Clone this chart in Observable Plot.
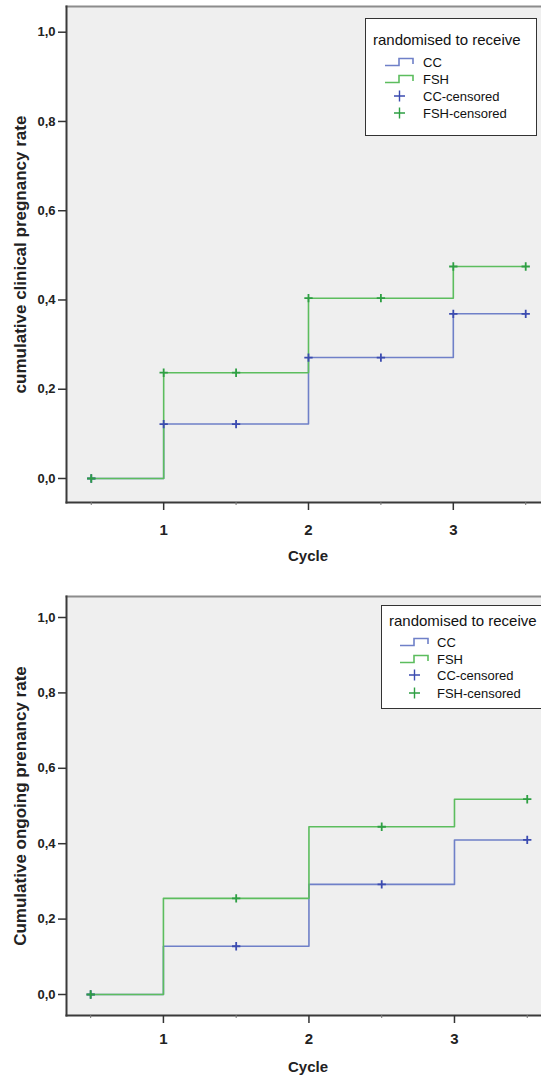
<!DOCTYPE html>
<html>
<head>
<meta charset="utf-8">
<script src="https://cdn.jsdelivr.net/npm/d3@7"></script>
<script src="https://cdn.jsdelivr.net/npm/@observablehq/plot@0.6"></script>
<style>
  body { margin: 0; background: #fff; font-family: "Liberation Sans", Arial, sans-serif; }
  #wrap { position: relative; width: 541px; height: 1075px; overflow: hidden; }
  .panel { position: absolute; left: 0; }
  .legend { position: absolute; background: #fff; border: 1.5px solid #333; box-sizing: border-box; }
  .legend .lt { position: absolute; white-space: nowrap; line-height: 1; transform: translateY(-50%); color: #111; }
  .legend svg { position: absolute; overflow: visible; }
</style>
</head>
<body>
<div id="wrap"></div>
<script>
// ---------- data ----------
const cycles = [0.5, 1, 2, 3, 3.5];
const clinicalCC  = [0, 0.122, 0.271, 0.369, 0.369];
const clinicalFSH = [0, 0.237, 0.404, 0.475, 0.475];
const ongoingCC   = [0, 0.128, 0.292, 0.410, 0.410];
const ongoingFSH  = [0, 0.255, 0.445, 0.518, 0.518];
const clinicalCCCensored  = [0.5, 1, 1.5, 2, 2.5, 3, 3.5];
const clinicalFSHCensored = [0.5, 1, 1.5, 2, 2.5, 3, 3.5];
const ongoingCCCensored   = [0.5, 1.5, 2.5, 3.5];
const ongoingFSHCensored  = [0.5, 1.5, 2.5, 3.5];
const groups = ["CC", "FSH"];
const xTicks = [1, 2, 3];
const xMinorTicks = [0.5, 1.5, 2.5, 3.5];
const yTicks = [0, 0.2, 0.4, 0.6, 0.8, 1.0];
const legendTitle = "randomised to receive";
const legendLabels = ["CC", "FSH", "CC-censored", "FSH-censored"];
const yLabels = ["cumulative clinical pregnancy rate", "Cumulative ongoing prenancy rate"];
const xLabel = "Cycle";

// ---------- styles ----------
const lineColor = {CC: "#6f80c8", FSH: "#5cbd5e"};
const censColor = {CC: "#3b4bb0", FSH: "#2e9f43"};
const FONT = "'Liberation Sans', Arial, sans-serif";

function stepAt(times, values, t) {
  let v = values[0];
  for (let i = 0; i < times.length; i++) if (times[i] <= t) v = values[i];
  return v;
}

function panel(cfg) {
  const series = {CC: cfg.cc, FSH: cfg.fsh};
  const lines = groups.flatMap(g => cycles.map((c, i) => ({x: c, y: series[g][i], g})));
  const cens = {
    CC: cfg.ccCens.map(t => ({x: t, y: stepAt(cycles, cfg.cc, t)})),
    FSH: cfg.fshCens.map(t => ({x: t, y: stepAt(cycles, cfg.fsh, t)}))
  };
  return Plot.plot({
    width: 541,
    height: cfg.height,
    marginTop: cfg.marginTop,
    marginBottom: cfg.marginBottom,
    marginLeft: cfg.marginLeft,
    marginRight: 0,
    style: {fontFamily: FONT, background: "transparent", overflow: "visible"},
    x: {domain: cfg.xDomain},
    y: {domain: cfg.yDomain},
    color: {domain: groups, range: groups.map(g => lineColor[g])},
    marks: [
      Plot.frame({fill: "#efefef", stroke: null}),
      Plot.frame({anchor: "top", stroke: "#8c8c8c", strokeWidth: 2}),
      Plot.frame({anchor: "left", stroke: "#3a3a3a", strokeWidth: 2}),
      Plot.frame({anchor: "bottom", stroke: "#3a3a3a", strokeWidth: 2}),
      Plot.axisY({ticks: yTicks, tickSize: 8, tickPadding: 3, label: null,
        tickFormat: d => d.toFixed(1).replace(".", ","),
        fontSize: 13, fontWeight: "bold", fill: "#222", stroke: "#333", strokeWidth: 1.5}),
      Plot.axisX({ticks: xTicks, tickSize: 8, tickPadding: cfg.xTickPad, label: null,
        tickFormat: d => String(d),
        fontSize: 15, fontWeight: "bold", fill: "#222", stroke: "#333", strokeWidth: 1.5}),
      Plot.axisX({ticks: xMinorTicks, tickSize: 3, label: null, tickFormat: () => "", stroke: "#777"}),
      Plot.line(lines, {x: "x", y: "y", z: "g", stroke: "g", curve: "step-after", strokeWidth: 1.6}),
      ...groups.map(g => Plot.dot(cens[g], {x: "x", y: "y", symbol: "plus", r: 2.8, stroke: censColor[g], strokeWidth: 1.8})),
      Plot.text([cfg.yLabel], {text: d => d, frameAnchor: "left", textAnchor: "middle", lineAnchor: "middle",
        rotate: -90, dx: -46, fontSize: 17, fontWeight: "bold", fill: "#222"}),
      Plot.text([xLabel], {text: d => d, frameAnchor: "bottom", textAnchor: "middle", lineAnchor: "middle",
        dy: cfg.labelDy, dx: 4, fontSize: 15, fontWeight: "bold", fill: "#222"})
    ]
  });
}

function legend(cfg) {
  const box = document.createElement("div");
  box.className = "legend";
  Object.assign(box.style, {left: cfg.left + "px", top: cfg.top + "px", width: cfg.width + "px", height: cfg.height + "px"});
  const title = document.createElement("div");
  title.className = "lt";
  title.textContent = legendTitle;
  Object.assign(title.style, {left: cfg.titleX + "px", top: cfg.titleY + "px", fontSize: "15px"});
  box.appendChild(title);
  legendLabels.forEach((lab, i) => {
    const g = groups[i % 2];
    const y = cfg.itemY[i];
    const ns = "http://www.w3.org/2000/svg";
    const svg = document.createElementNS(ns, "svg");
    svg.setAttribute("width", 30); svg.setAttribute("height", 12);
    svg.style.left = cfg.iconX + "px"; svg.style.top = (y - 6) + "px";
    const p = document.createElementNS(ns, "path");
    if (i < 2) {
      p.setAttribute("d", "M0,9.5H14V2.5H28V8");
      p.setAttribute("stroke", lineColor[g]);
      p.setAttribute("stroke-width", 1.6);
    } else {
      p.setAttribute("d", "M9,6H20M14.5,0.5V11.5");
      p.setAttribute("stroke", censColor[g]);
      p.setAttribute("stroke-width", 1.4);
    }
    p.setAttribute("fill", "none");
    svg.appendChild(p);
    box.appendChild(svg);
    const t = document.createElement("div");
    t.className = "lt";
    t.textContent = lab;
    Object.assign(t.style, {left: cfg.textX + "px", top: y + "px", fontSize: "13px"});
    box.appendChild(t);
  });
  return box;
}

const wrap = document.getElementById("wrap");

const p1 = panel({cc: clinicalCC, fsh: clinicalFSH, ccCens: clinicalCCCensored, fshCens: clinicalFSHCensored,
  yLabel: yLabels[0], height: 580, marginTop: 6, marginBottom: 78, marginLeft: 66,
  xDomain: [0.329, 3.609], yDomain: [-0.0538, 1.0576], xTickPad: 14, labelDy: 54});
p1.classList.add("panel"); p1.style.top = "0px";
wrap.appendChild(p1);

const p2 = panel({cc: ongoingCC, fsh: ongoingFSH, ccCens: ongoingCCCensored, fshCens: ongoingFSHCensored,
  yLabel: yLabels[1], height: 495, marginTop: 16, marginBottom: 60, marginLeft: 66,
  xDomain: [0.334, 3.598], yDomain: [-0.0557, 1.0557], xTickPad: 10, labelDy: 52});
p2.classList.add("panel"); p2.style.top = "580px";
wrap.appendChild(p2);

wrap.appendChild(legend({left: 365, top: 18, width: 172, height: 118,
  titleX: 7, titleY: 20, iconX: 19, textX: 57, itemY: [43, 60, 76.5, 94]}));
wrap.appendChild(legend({left: 381, top: 605, width: 175, height: 104,
  titleX: 7, titleY: 13.5, iconX: 18, textX: 55, itemY: [36, 53, 69, 86.5]}));
</script>
</body>
</html>
